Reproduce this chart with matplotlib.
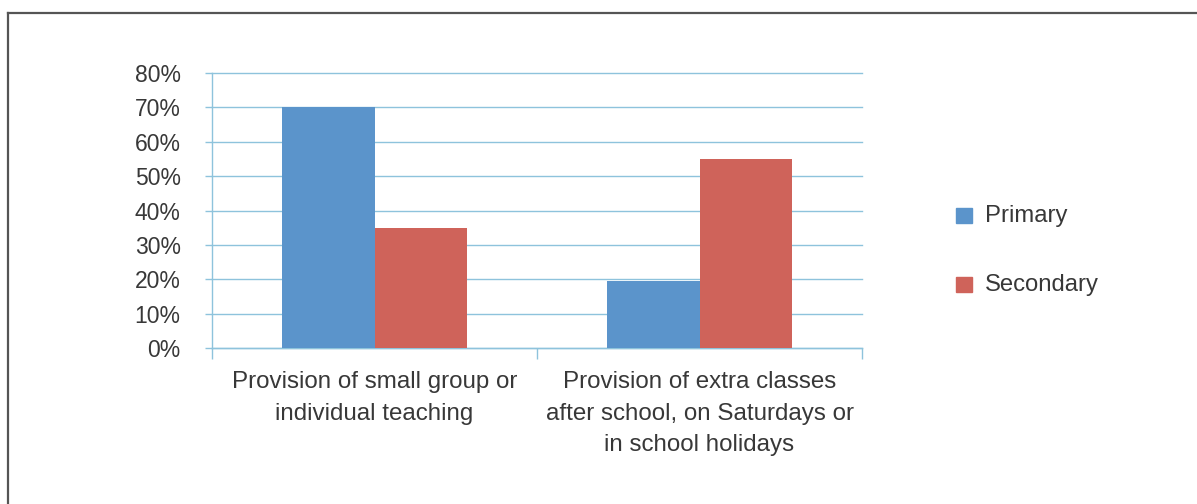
import matplotlib

matplotlib.use("Agg")
import matplotlib.pyplot as plt  # noqa: E402
import numpy as np  # noqa: E402
from matplotlib.lines import Line2D  # noqa: E402
from matplotlib.patches import Rectangle  # noqa: E402

# Data
CATEGORIES = [
    "Provision of small group or\nindividual teaching",
    "Provision of extra classes\nafter school, on Saturdays or\nin school holidays",
]
SERIES = ["Primary", "Secondary"]
PRIMARY = [70, 19.5]
SECONDARY = [35, 55]
Y_TICKS = [0, 10, 20, 30, 40, 50, 60, 70, 80]

COLORS = {"Primary": "#5b94cb", "Secondary": "#cf635a"}
GRID = "#8ec3dc"
TEXT = "#383838"
W, H, DPI = 1197, 504, 100

plt.rcParams["font.family"] = ["Liberation Sans", "DejaVu Sans"]

fig = plt.figure(figsize=(W / DPI, H / DPI), dpi=DPI)
ax = fig.add_axes([212 / W, (H - 348) / H, 650 / W, 275 / H])

# Excel-like clustered bars, gap width 150%
x = np.arange(len(CATEGORIES))
bar_w = 1 / 3.5
ax.bar(x - bar_w / 2, PRIMARY, width=bar_w, color=COLORS["Primary"], zorder=3)
ax.bar(x + bar_w / 2, SECONDARY, width=bar_w, color=COLORS["Secondary"], zorder=3)

ax.set_xlim(-0.5, len(CATEGORIES) - 0.5)
ax.set_ylim(0, 80)
ax.set_yticks(Y_TICKS)
ax.set_yticklabels([f"{v}%" for v in Y_TICKS])
ax.yaxis.grid(True, color=GRID, linewidth=1.0, zorder=0)
for gl in ax.get_ygridlines():
    gl.set_clip_on(False)

# category labels centred under groups, ticks on group boundaries
ax.set_xticks(np.arange(len(CATEGORIES) + 1) - 0.5)
ax.set_xticklabels([])
ax.tick_params(axis="x", length=8, width=1, color=GRID, direction="out")
ax.tick_params(axis="y", length=5, width=1, color=GRID, direction="out",
               pad=17.5, labelsize=16.5, labelcolor=TEXT)
for i, label in enumerate(CATEGORIES):
    ax.text(i, -6.6, label, ha="center", va="top", fontsize=17.4,
            color=TEXT, linespacing=1.58)

for side in ("top", "right"):
    ax.spines[side].set_visible(False)
for side in ("left", "bottom"):
    ax.spines[side].set_color(GRID)
    ax.spines[side].set_linewidth(1.0)

# legend drawn in figure pixels
legend_y = [216, 285]
for name, y in zip(SERIES, legend_y):
    fig.patches.append(Rectangle((956 / W, (H - y - 7) / H), 16 / W, 15 / H,
                                 transform=fig.transFigure, color=COLORS[name]))
    fig.text(985 / W, (H - y) / H, name, ha="left", va="center",
             fontsize=17.2, color=TEXT)

# outer frame: top and left only
fig.add_artist(Line2D([8 / W, 1], [(H - 13) / H] * 2, color="#555555", lw=1.6))
fig.add_artist(Line2D([8 / W] * 2, [0, (H - 13) / H], color="#555555", lw=1.6))

fig.savefig("out.png", dpi=DPI)
